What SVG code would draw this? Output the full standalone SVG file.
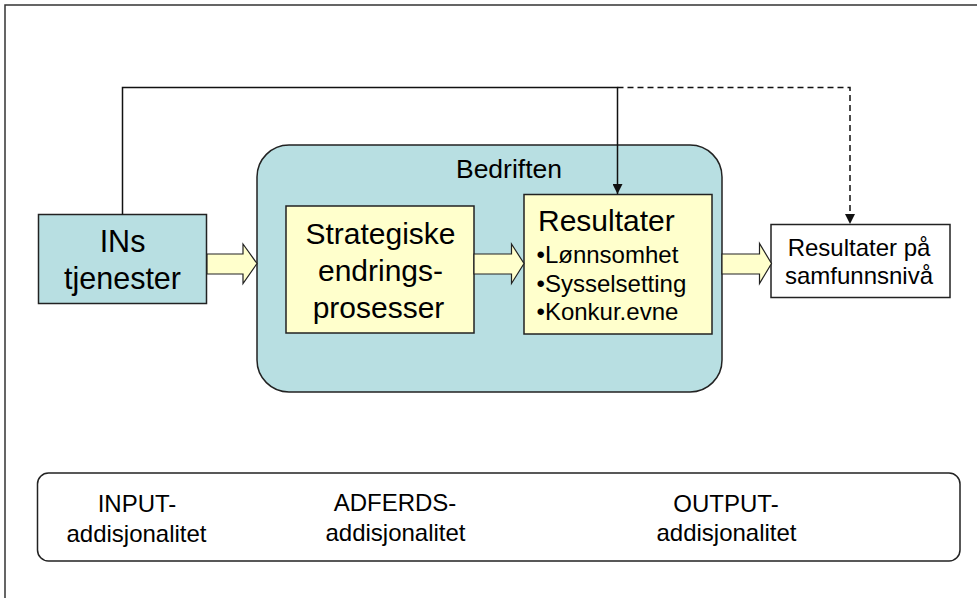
<svg xmlns="http://www.w3.org/2000/svg" width="977" height="598" viewBox="0 0 977 598">
<defs>
<style>
.t{font-family:"Liberation Sans",Arial,sans-serif;fill:#000}
.teal{fill:#b8dfe2;stroke:#222;stroke-width:1.5}
.yel{fill:#ffffcc;stroke:#222;stroke-width:1.5}
.blk{fill:#ffffcc;stroke:#222;stroke-width:1.2}
.ln{fill:none;stroke:#111;stroke-width:1.5}
</style>
<marker id="ah" viewBox="0 0 10 10" refX="10" refY="5" markerWidth="10" markerHeight="10" markerUnits="userSpaceOnUse" orient="auto">
<path d="M0,0 L10,5 L0,10 z" fill="#111"/>
</marker>
</defs>
<rect width="977" height="598" fill="#fff"/>
<rect x="5" y="5" width="1000" height="1000" fill="none" stroke="#333" stroke-width="1.5"/>

<g id="bedriften">
<rect class="teal" x="257" y="145" width="465" height="247" rx="32" ry="32"/>
<text class="t" x="509" y="178" font-size="26.5" text-anchor="middle">Bedriften</text>
</g>

<g id="ins">
<rect class="teal" x="38.5" y="214.5" width="168" height="89"/>
<text class="t" x="122.5" y="252" font-size="30.5" text-anchor="middle">INs</text>
<text class="t" x="122.5" y="288.5" font-size="30.5" text-anchor="middle">tjenester</text>
</g>

<g id="strategiske">
<rect class="yel" x="286" y="206" width="188" height="127"/>
<text class="t" x="380.5" y="243.5" font-size="30" text-anchor="middle">Strategiske</text>
<text class="t" x="380.5" y="281" font-size="30" text-anchor="middle">endrings-</text>
<text class="t" x="378.5" y="318" font-size="30" text-anchor="middle">prosesser</text>
</g>

<g id="resultater">
<rect class="yel" x="524" y="194.5" width="188" height="139.5"/>
<text class="t" x="538" y="231" font-size="30">Resultater</text>
<text class="t" x="536.5" y="263" font-size="24">•Lønnsomhet</text>
<text class="t" x="536.5" y="291.5" font-size="24">•Sysselsetting</text>
<text class="t" x="536.5" y="320" font-size="24">•Konkur.evne</text>
</g>

<g id="samfunn">
<rect x="771" y="224.5" width="179" height="73" fill="#fff" stroke="#222" stroke-width="1.5"/>
<text class="t" x="859" y="255.5" font-size="24" text-anchor="middle">Resultater på</text>
<text class="t" x="859" y="283.5" font-size="24" text-anchor="middle">samfunnsnivå</text>
</g>

<g id="additionality">
<rect x="37.5" y="473" width="922.5" height="88" rx="11" ry="11" fill="#fff" stroke="#222" stroke-width="1.5"/>
<text class="t" x="137" y="511.5" font-size="24" text-anchor="middle">INPUT-</text>
<text class="t" x="136.5" y="541.5" font-size="24" text-anchor="middle">addisjonalitet</text>
<text class="t" x="395" y="511" font-size="24" text-anchor="middle">ADFERDS-</text>
<text class="t" x="395.5" y="541" font-size="24" text-anchor="middle">addisjonalitet</text>
<text class="t" x="726" y="511.5" font-size="24" text-anchor="middle">OUTPUT-</text>
<text class="t" x="726.5" y="541" font-size="24" text-anchor="middle">addisjonalitet</text>
</g>

<g id="connectors">
<polyline class="ln" points="122.5,214.5 122.5,87.5 617.5,87.5 617.5,194" marker-end="url(#ah)"/>
<polyline class="ln" points="617.5,87.5 850,87.5 850,224" stroke-dasharray="6,4" marker-end="url(#ah)"/>
<path class="blk" d="M207,254 L243,254 L243,244 L257,263.5 L243,283.5 L243,274 L207,274 z"/>
<path class="blk" d="M474,254 L511.5,254 L511.5,244 L524,263.5 L511.5,283.5 L511.5,274 L474,274 z"/>
<path class="blk" d="M722,254 L759.5,254 L759.5,243.5 L771.5,263.5 L759.5,283.5 L759.5,274 L722,274 z"/>
</g>
</svg>
